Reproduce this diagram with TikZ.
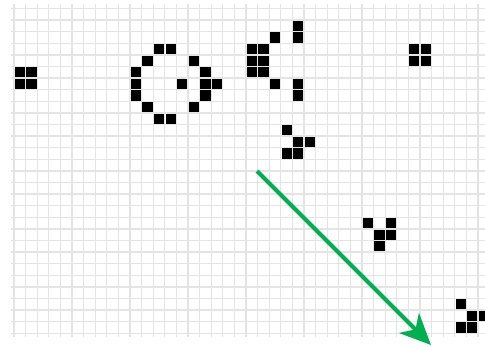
\documentclass[tikz,border=0pt]{standalone}
\usetikzlibrary{arrows.meta}
\definecolor{gridgray}{RGB}{228,228,228}
\definecolor{arrowgreen}{RGB}{0,176,80}
\tikzset{
  gridline/.style={draw=gridgray, line width=1.3pt},
  cell/.style={fill=black},
  flowarrow/.style={draw=arrowgreen, line width=4.2pt,
    -{Stealth[length=31pt, width=28pt, inset=9pt]}}
}
\begin{document}
\begin{tikzpicture}[x=1pt,y=-1pt]
\useasboundingbox (0,0) rectangle (485,346);
\begin{scope}
\clip (0,0) rectangle (485,346);
\foreach \i in {0,...,41} \draw[gridline] (14+\i*11.6, 4) -- (14+\i*11.6, 337);
\foreach \j in {0,...,28} \draw[gridline] (11, 8.5+\j*11.6) -- (490, 8.5+\j*11.6);
\foreach \c/\r in {0/5,1/5,0/6,1/6,
  12/3,13/3,11/4,15/4,10/5,16/5,10/6,14/6,16/6,17/6,10/7,16/7,11/8,15/8,12/9,13/9,
  24/1,22/2,24/2,20/3,21/3,20/4,21/4,20/5,21/5,22/6,24/6,24/7,
  34/3,35/3,34/4,35/4,
  23/10,24/11,25/11,23/12,24/12,
  30/18,32/18,31/19,32/19,31/20,
  38/25,39/26,40/26,38/27,39/27}
  \fill[cell] (14.7+\c*11.6, 9.2+\r*11.6) rectangle ++(10.2,10.2);
\end{scope}
\coordinate (astart) at (257,171);
\coordinate (aend) at (431,345);
\draw[flowarrow] (astart) -- (aend);
\end{tikzpicture}
\end{document}
